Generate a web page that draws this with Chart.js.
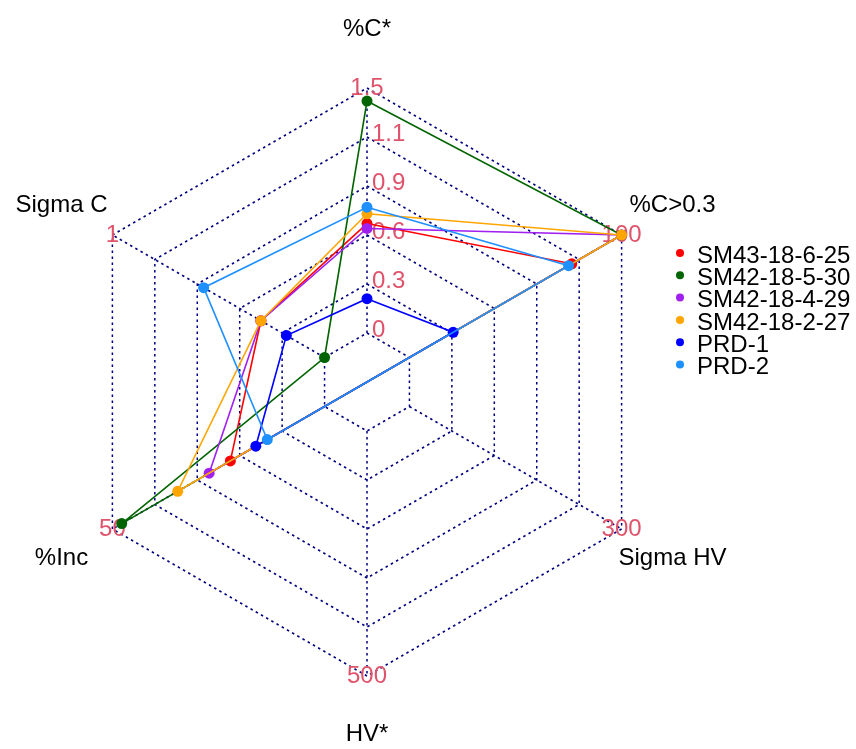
<!DOCTYPE html>
<html>
<head>
<meta charset="utf-8">
<script src="https://cdn.jsdelivr.net/npm/chart.js@4/dist/chart.umd.min.js"></script>
<style>
    html, body { margin: 0; padding: 0; background: #fff; }
    #grafica { display: block; }
</style>
</head>
<body>
<canvas id="grafica" width="856" height="749"></canvas>
<script>
// Ejes en el orden de Chart.js (empieza arriba, sentido horario)
const ejes = ["%C*", "%C>0.3", "Sigma HV", "HV*", "%Inc", "Sigma C"];
const minimos = [0, 0, 0, 0, 0, 0];
const maximos = [1.5, 100, 300, 500, 50, 1];
const etiquetasMaximos = ["1.5", "100", "300", "500", "50", "1"];
const etiquetasCentrales = ["0", "0.3", "0.6", "0.9", "1.1"];

const series = ["SM43-18-6-25", "SM42-18-5-30", "SM42-18-4-29", "SM42-18-2-27", "PRD-1", "PRD-2"];
const colores = ["#FF0000", "#006400", "#A020F0", "#FFA500", "#0000FF", "#1E90FF"];

// null = sin dato (se dibuja en el origen, sin punto)
const sm43_18_6_25 = [0.67, 76.5, null, null, 22.2, 0.30];
const sm42_18_5_30 = [1.42, 100, null, null, 47.8, 0];
const sm42_18_4_29 = [0.64, 100, null, null, 27.2, 0.30];
const sm42_18_2_27 = [0.73, 100, null, null, 34.6, 0.30];
const prd1 = [0.21, 20.6, null, null, 16.2, 0.18];
const prd2 = [0.77, 75, null, null, 13.5, 0.57];

const valores = [sm43_18_6_25, sm42_18_5_30, sm42_18_4_29, sm42_18_2_27, prd1, prd2];

const SEGMENTOS = 5;
const FUENTE = "24px 'Liberation Sans', Arial, sans-serif";
const COLOR_REJILLA = "#000080";
const PUNTEADO = [2.5, 3.5];

function normalizar(fila) {
    return fila.map((v, i) => v === null ? 0 : 1 + SEGMENTOS * (v - minimos[i]) / (maximos[i] - minimos[i]));
}

const decoracion = {
    id: "decoracion",
    beforeDatasetsDraw(chart) {
        const escala = chart.scales.r;
        const ctx = chart.ctx;
        ctx.save();

        // ejes radiales desde el anillo interior
        ctx.strokeStyle = COLOR_REJILLA;
        ctx.lineWidth = 1.5;
        ctx.setLineDash(PUNTEADO);
        ejes.forEach((eje, i) => {
            const a = escala.getPointPositionForValue(i, 1);
            const b = escala.getPointPositionForValue(i, SEGMENTOS + 1);
            ctx.beginPath();
            ctx.moveTo(a.x, a.y);
            ctx.lineTo(b.x, b.y);
            ctx.stroke();
        });
        ctx.setLineDash([]);

        ctx.font = FUENTE;
        ctx.fillStyle = "#DF536B";
        ctx.textAlign = "center";
        ctx.textBaseline = "middle";
        etiquetasMaximos.forEach((texto, i) => {
            const p = escala.getPointPositionForValue(i, SEGMENTOS + 1);
            ctx.fillText(texto, p.x, p.y);
        });

        ctx.textAlign = "left";
        etiquetasCentrales.forEach((texto, i) => {
            const p = escala.getPointPositionForValue(0, i + 1);
            ctx.fillText(texto, p.x + 5, p.y - 3);
        });

        ctx.fillStyle = "#000";
        ctx.textAlign = "center";
        ejes.forEach((eje, i) => {
            const p = escala.getPointPosition(i, escala.drawingArea * 1.2);
            ctx.fillText(eje, p.x, p.y);
        });
        ctx.restore();
    },
    afterDraw(chart) {
        const ctx = chart.ctx;
        ctx.save();
        ctx.font = FUENTE;
        ctx.textAlign = "left";
        ctx.textBaseline = "middle";
        series.forEach((nombre, i) => {
            const y = 253 + i * 22.3;
            ctx.fillStyle = colores[i];
            ctx.beginPath();
            ctx.arc(680, y, 4, 0, 2 * Math.PI);
            ctx.fill();
            ctx.fillStyle = "#000";
            ctx.fillText(nombre, 697, y + 3);
        });
        ctx.restore();
    }
};

const ctx = document.getElementById("grafica");
const grafica = new Chart(ctx, {
    type: "radar",
    data: {
        labels: ejes,
        datasets: series.map((nombre, i) => ({
            label: nombre,
            data: normalizar(valores[i]),
            borderColor: colores[i],
            backgroundColor: colores[i],
            pointBackgroundColor: colores[i],
            borderWidth: 1.6,
            pointBorderWidth: 0,
            pointRadius: (c) => valores[i][c.dataIndex] === null ? 0 : 5.5,
            fill: false,
            tension: 0,
            order: series.length - i
        }))
    },
    options: {
        responsive: false,
        animation: false,
        layout: {
            padding: { left: 73, top: 88, right: 195, bottom: 73 }
        },
        plugins: {
            legend: { display: false },
            tooltip: { enabled: false }
        },
        scales: {
            r: {
                min: 0,
                max: SEGMENTOS + 1,
                ticks: { display: false, stepSize: 1 },
                grid: { color: COLOR_REJILLA, lineWidth: 1.5 },
                border: { dash: PUNTEADO },
                angleLines: { display: false },
                pointLabels: { display: false }
            }
        }
    },
    plugins: [decoracion]
});
</script>
</body>
</html>
